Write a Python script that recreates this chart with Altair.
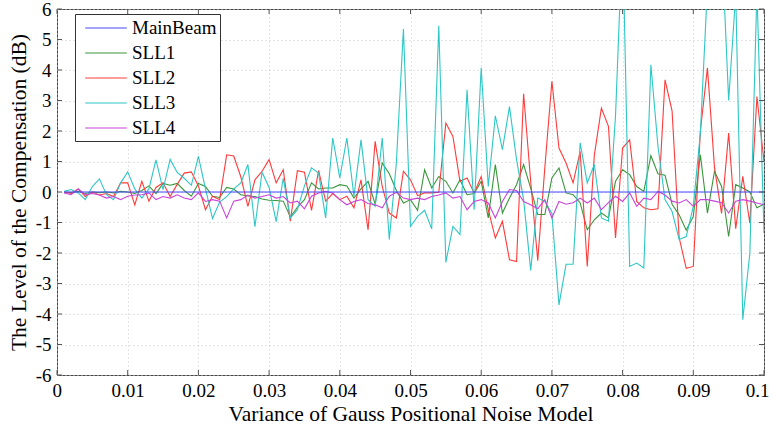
import altair as alt
import pandas as pd

# ---- data (x = 0.001 ... 0.100) ----
x_vals = [round(0.001 * k, 3) for k in range(1, 101)]

mainbeam = [0.0] * 100  # flat at 0 dB

sll1 = [0.0, -0.02, 0.02, -0.05, 0.0, -0.02, 0.0, -0.03, 0.02, 0.0,
        -0.05, 0.05, 0.2, -0.05, 0.28, 0.22, 0.28, 0.05, -0.14, 0.28,
        0.18, -0.14, -0.18, 0.15, 0.1, -0.09, -0.13, -0.15, -0.23, -0.27,
        -0.28, -0.3, -0.82, -0.5, -0.25, 0.3, 0.1, 0.13, 0.13, 0.24,
        0.2, -0.2, 0.1, 0.35, -0.4, 0.95, 0.6, 0.05, -0.36, -0.25,
        -0.6, 0.73, 0.13, 0.51, 0.35, -0.03, 0.4, -0.09, -0.05, 0.35,
        -0.85, 0.9, -0.69, -0.2, 0.24, 0.9, 0.13, -0.74, -0.74, 0.46,
        0.79, -0.03, -0.09, -0.36, -1.24, -0.91, -0.69, -0.85, 0.35, 0.73,
        0.57, 0.18, 0.02, 1.19, 0.6, 0.55, -0.4, -0.75, -1.25, -0.8,
        1.22, -0.69, 0.68, 0.18, -1.46, 0.24, 0.13, 0.0, -0.52, -0.4]

sll2 = [0.0, -0.05, 0.1, -0.15, 0.0, -0.1, -0.05, -0.15, 0.3, 0.3,
        -0.42, 0.35, -0.3, 0.15, 0.3, -0.15, 0.25, 0.62, 0.66, 0.2,
        -0.58, -0.14, -0.25, 1.22, 1.18, 0.5, -0.47, 0.4, 0.68, 1.06,
        0.3, 0.73, -0.96, 0.7, 0.65, -0.6, 0.7, -0.3, -0.05, -0.25,
        -0.14, -0.52, 0.4, -1.24, 1.66, 0.18, -0.69, -0.85, 0.68, 0.4,
        -0.12, -0.03, -0.03, -0.01, 2.26, 1.82, 0.35, 0.46, -0.03, 0.51,
        -0.58, -1.51, -0.96, -2.22, -2.28, 3.22, 0.35, -2.25, 0.8, 3.63,
        1.44, 0.95, 0.3, 1.33, -2.44, 1.2, 2.75, 2.15, -1.51, 1.44,
        1.71, -0.31, -0.52, -0.58, -0.55, 3.68, 2.65, -1.5, -2.5, -2.44,
        2.0, 4.07, 0.8, -0.7, 1.93, -1.2, 0.51, -1.02, 3.13, 1.0]

sll3 = [0.02, 0.08, -0.03, -0.25, 0.18, 0.43, -0.09, -0.25, 0.3, 0.66,
        0.1, -0.2, 0.1, 1.05, 0.08, 1.07, 0.64, 0.45, 0.22, 1.17,
        0.1, -0.87, -0.33, -0.15, 0.1, 0.3, 0.9, -1.14, 0.65, 0.15,
        -0.97, 0.45, -0.85, -0.58, 0.2, 0.79, 0.62, -0.85, 1.77, 0.46,
        1.77, -0.14, 1.71, -0.25, -0.47, 1.77, -1.56, 0.95, 5.34, -1.13,
        -0.8, -0.6, -1.21, 5.45, -2.31, -1.13, -1.4, 3.35, -0.58, 4.07,
        0.18, 2.5, 1.39, 2.8, 1.06, -0.25, -2.57, -0.2, -0.3, -0.7,
        -3.7, -2.37, -2.37, 1.61, 0.3, 0.9, -0.85, -0.96, 2.5, 8.5,
        -2.44, -2.33, -2.49, 4.17, 1.5, -0.25, -0.64, -1.56, -1.46, -0.47,
        1.93, 6.7, 8.0, 8.3, 3.0, 6.5, -4.19, -2.0, 6.6, -1.34]

sll4 = [-0.03, -0.09, 0.1, -0.09, -0.05, -0.1, -0.2, -0.15, -0.25, -0.14,
        -0.1, -0.09, -0.03, -0.25, -0.15, -0.2, -0.09, -0.2, -0.25, -0.03,
        -0.31, -0.25, -0.3, -0.85, -0.3, -0.25, -0.1, -0.2, -0.15, -0.09,
        -0.2, -0.15, -0.36, -0.3, -0.55, -0.14, -0.03, 0.02, -0.03, -0.25,
        -0.42, -0.31, -0.25, -0.38, -0.42, -0.52, -0.14, -0.01, -0.2, -0.25,
        -0.2, -0.25, -0.15, -0.1, -0.03, -0.2, -0.15, -0.58, -0.31, -0.25,
        -0.36, -0.85, -0.31, 0.08, 0.05, -0.31, -0.42, -0.55, -0.25, -0.85,
        -0.31, -0.4, -0.35, -0.2, -0.36, -0.2, -0.58, -0.35, -0.14, -0.31,
        -0.03, -0.47, -0.2, -0.25, 0.02, -0.1, -0.3, -0.36, -0.25, -0.47,
        -0.25, -0.25, -0.3, -0.35, -0.69, -0.3, -0.25, -0.3, -0.36, -0.42]

series_names = ["MainBeam", "SLL1", "SLL2", "SLL3", "SLL4"]
series_colors = ["#4646ff", "#38963a", "#ff3a3a", "#2ec6c6", "#c844d8"]
x_ticks = [0, 0.01, 0.02, 0.03, 0.04, 0.05, 0.06, 0.07, 0.08, 0.09, 0.1]
y_ticks = [-6, -5, -4, -3, -2, -1, 0, 1, 2, 3, 4, 5, 6]

series_values = {"MainBeam": mainbeam, "SLL1": sll1, "SLL2": sll2,
                 "SLL3": sll3, "SLL4": sll4}
draw_order = ["SLL1", "SLL2", "SLL3", "SLL4", "MainBeam"]
rows = []
for name in draw_order:
    for xv, yv in zip(x_vals, series_values[name]):
        rows.append({"x": xv, "y": yv, "series": name})
df = pd.DataFrame(rows)
xt = pd.DataFrame({"t": x_ticks})
yt = pd.DataFrame({"t": y_ticks})

FONT = "Liberation Serif"
W, H = 707, 366

xscale = alt.Scale(domain=[0, 0.1], nice=False, zero=False)
yscale = alt.Scale(domain=[-6, 6], nice=False, zero=False)

x_axis = alt.Axis(values=x_ticks, labelExpr="datum.value + ''",
                  title="Variance of Gauss Positional Noise Model",
                  grid=True, gridDash=[1, 3], gridColor="#c8c8c8",
                  domain=False, ticks=False, labelPadding=6, titlePadding=3,
                  labelFont=FONT, labelFontSize=19, labelColor="#000",
                  titleFont=FONT, titleFontSize=21.5, titleFontWeight="normal",
                  titleColor="#000", labelOverlap=False,
                  labelFlush=True, labelFlushOffset=5)
y_axis = alt.Axis(values=y_ticks, labelExpr="datum.value + ''",
                  title="The Level of the Compensation (dB)",
                  grid=True, gridDash=[1, 3], gridColor="#c8c8c8",
                  domain=False, ticks=False, labelPadding=6, titlePadding=5,
                  labelFont=FONT, labelFontSize=19, labelColor="#000",
                  titleFont=FONT, titleFontSize=21.5, titleFontWeight="normal",
                  titleColor="#000", labelOverlap=False, labelFlush=False)

lines = alt.Chart(df).mark_line(strokeWidth=1.1, clip=True).encode(
    x=alt.X("x:Q", scale=xscale, axis=x_axis),
    y=alt.Y("y:Q", scale=yscale, axis=y_axis),
    color=alt.Color(
        "series:N", title=None,
        scale=alt.Scale(domain=series_names, range=series_colors),
        legend=alt.Legend(orient="none", legendX=18, legendY=5,
                          symbolType="M-2,0H2", symbolSize=432,
                          symbolStrokeWidth=1.2, symbolOffset=17,
                          labelOffset=15, labelFont=FONT, labelFontSize=19,
                          labelColor="#000", strokeColor="#333",
                          fillColor="white", padding=3, rowPadding=4,
                          cornerRadius=0)),
)

tick_color = "#555"
xb = alt.Chart(xt).mark_rule(color=tick_color).encode(
    x=alt.X("t:Q", scale=xscale, axis=x_axis), y=alt.value(H), y2=alt.value(H - 5))
xtop = alt.Chart(xt).mark_rule(color=tick_color).encode(
    x=alt.X("t:Q", scale=xscale, axis=x_axis), y=alt.value(0), y2=alt.value(5))
yl = alt.Chart(yt).mark_rule(color=tick_color).encode(
    y=alt.Y("t:Q", scale=yscale, axis=y_axis), x=alt.value(0), x2=alt.value(5))
yr = alt.Chart(yt).mark_rule(color=tick_color).encode(
    y=alt.Y("t:Q", scale=yscale, axis=y_axis), x=alt.value(W), x2=alt.value(W - 5))

chart = alt.layer(lines, xb, xtop, yl, yr).properties(
    width=W, height=H,
    autosize=alt.AutoSizeParams(type="none"),
    padding={"left": 57, "top": 9, "right": 9, "bottom": 52},
    background="white",
).configure_view(stroke="#444", strokeWidth=1)

chart.save("out.html", embed_options={"renderer": "svg", "actions": False})
